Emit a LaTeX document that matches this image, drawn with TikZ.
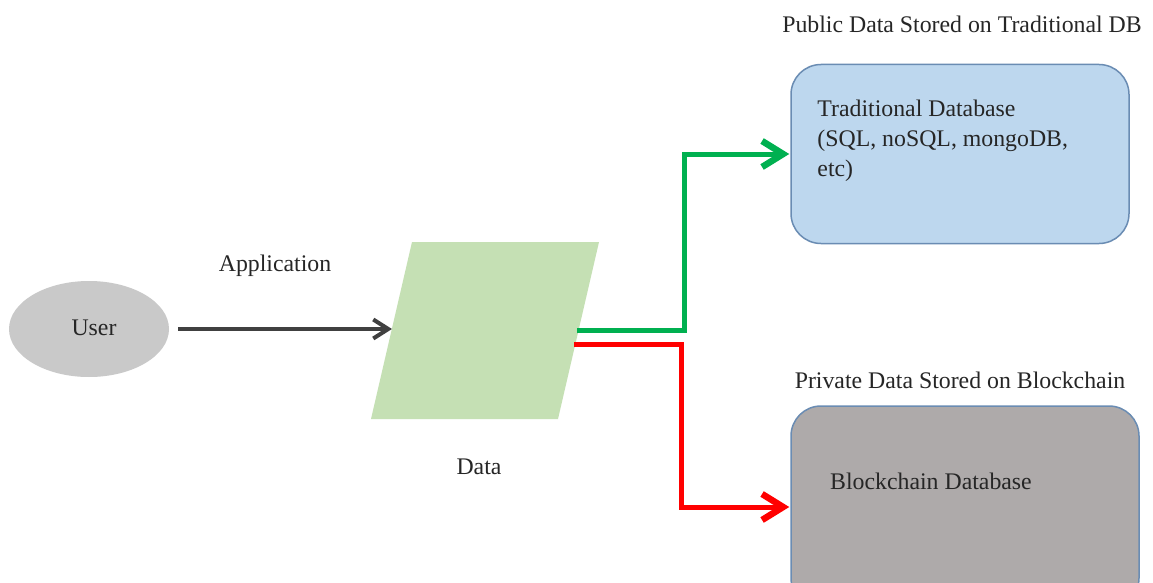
\documentclass[tikz,border=0pt]{standalone}
\usepackage{fontspec}
\setmainfont{Liberation Serif}
\usetikzlibrary{arrows.meta,shapes.geometric,calc}
\definecolor{txt}{HTML}{262626}
\definecolor{userfill}{HTML}{C9C9C9}
\definecolor{datafill}{HTML}{C5E0B4}
\definecolor{tradfill}{HTML}{BDD7EE}
\definecolor{blockfill}{HTML}{AEAAAA}
\definecolor{boxline}{HTML}{6A8CB3}
\definecolor{grn}{HTML}{00B050}
\definecolor{arrowgray}{HTML}{404040}
\tikzset{
  lbl/.style={text=txt,font=\fontsize{23.8}{30}\selectfont,inner sep=0},
  dbbox/.style={draw=boxline,line width=1.5pt,rounded corners=30pt},
  flow/.style={line width=5pt,-{Straight Barb[length=21pt,width=26pt,line width=6.5pt]}},
}
\begin{document}
\begin{tikzpicture}[x=1pt,y=-1pt]
\clip (0,0) rectangle (1153,583);
\fill[white] (0,0) rectangle (1153,583);
% user
\node[ellipse,fill=userfill,minimum width=160,minimum height=96,inner sep=0] (user) at (89,329) {};
\node[lbl] (usertxt) at (94,328) {User};
% data parallelogram
\fill[datafill] (371,419) -- (558,419) -- (599,242) -- (412,242) -- cycle;
\node[inner sep=0] (data) at (485,330) {};
\coordinate (dataL) at (392,329);
\coordinate (dataG) at (577,330);
\coordinate (dataR) at (574,344);
\node[lbl] (datatxt) at (479,467) {Data};
\node[lbl] (apptxt) at (275,266) {Application};
% boxes
\node[dbbox,fill=tradfill,minimum width=338,minimum height=179,inner sep=0] (trad) at (960,154) {};
\node[lbl,anchor=north west,align=left] (tradtxt) at ([xshift=27,yshift=-36]trad.north west) {Traditional Database\\(SQL, noSQL, mongoDB,\\etc)};
\node[dbbox,fill=blockfill,minimum width=348,minimum height=202,inner sep=0] (block) at (965,507) {};
\node[lbl,anchor=west] (blocktxt) at (830,481) {Blockchain Database};
\node[lbl] (pubtxt) at (962,24) {Public Data Stored on Traditional DB};
\node[lbl] (privtxt) at (960,380) {Private Data Stored on Blockchain};
% connectors
\draw[arrowgray,line width=3.5pt,-{Straight Barb[length=15pt,width=19pt,line width=4pt]}] ([xshift=9]user.east) -- (dataL);
\draw[grn,flow] (dataG) -- ++(107,0) |- ([xshift=-1]trad.west);
\draw[red,flow] (dataR) -- ++(107,0) |- ([xshift=-1]block.west);
\end{tikzpicture}
\end{document}
